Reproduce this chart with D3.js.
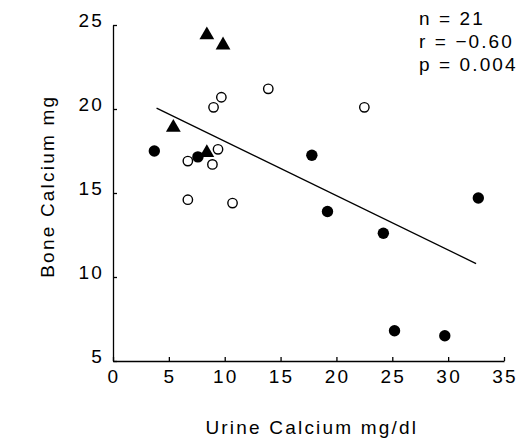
<!DOCTYPE html>
<html>
<head>
<meta charset="utf-8">
<script src="https://cdn.jsdelivr.net/npm/d3@7"></script>
<style>
    body { margin: 0; background: #fff; }
    svg text { font-family: "Liberation Sans", Arial, Helvetica, sans-serif; fill: #000; }
</style>
</head>
<body>
<div id="graph-container"></div>
<script>
// values
const openX = [6.7, 8.9, 9.4, 9.0, 9.7, 13.9, 6.7, 10.7, 22.5];
const openY = [16.9, 16.7, 17.6, 20.1, 20.7, 21.2, 14.6, 14.4, 20.1];

const filledX = [3.7, 7.6, 17.8, 19.2, 24.2, 32.7, 25.2, 29.7];
const filledY = [17.5, 17.15, 17.25, 13.9, 12.6, 14.7, 6.8, 6.5];

const triX = [8.4, 9.85, 5.4, 8.4];
const triY = [24.4, 23.8, 18.9, 17.4];

const fitX = [3.9, 32.5];
const fitY = [20.05, 10.8];

const xTicks = [0, 5, 10, 15, 20, 25, 30, 35];
const yTicks = [5, 10, 15, 20, 25];

const statsText = ['n = 21', 'r = \u22120.60', 'p = 0.004'];

const xTitle = 'Urine Calcium mg/dl';
const yTitle = 'Bone Calcium mg';

const
    WIDTH = 522,
    HEIGHT = 440;

const margin = {
    top: 25,
    bottom: 79,
    left: 113,
    right: 18,
};

const width = WIDTH - margin.left - margin.right,
    height = HEIGHT - margin.top - margin.bottom;

const fontSize = '19px',
    spacing = '2.2px';

const svg = d3.select('#graph-container').append('svg')
    .attr('width', WIDTH)
    .attr('height', HEIGHT);

const container = svg.append('g')
    .attr('transform', `translate(${margin.left} ${margin.top})`);

const xScale = d3.scaleLinear().domain([0, 35]).range([0, width]);
const yScale = d3.scaleLinear().domain([5, 25]).range([height, 0]);

// axes: inward ticks, no outer ticks
const xAxis = d3.axisTop(xScale).tickValues(xTicks).tickSizeInner(4).tickSizeOuter(0).tickFormat('');
const yAxis = d3.axisRight(yScale).tickValues(yTicks).tickSizeInner(4).tickSizeOuter(0).tickFormat('');

container.append('g')
    .attr('transform', `translate(0, ${height})`)
    .call(xAxis)
    .call(g => g.selectAll('path, line').attr('stroke', '#000').attr('stroke-width', 1.3));

container.append('g')
    .call(yAxis)
    .call(g => g.selectAll('path, line').attr('stroke', '#000').attr('stroke-width', 1.3));

// tick labels
container.selectAll('.xlab')
    .data(xTicks)
    .join('text')
    .attr('class', 'xlab')
    .attr('x', d => xScale(d) + 1)
    .attr('y', height + 22)
    .attr('text-anchor', 'middle')
    .style('font-size', fontSize)
    .style('letter-spacing', spacing)
    .text(d => d);

container.selectAll('.ylab')
    .data(yTicks)
    .join('text')
    .attr('class', 'ylab')
    .attr('x', -9)
    .attr('y', d => yScale(d) + 2)
    .attr('text-anchor', 'end')
    .style('font-size', fontSize)
    .style('letter-spacing', spacing)
    .text(d => d);

// titles
svg.append('text')
    .attr('x', margin.left + xScale(17.8))
    .attr('y', 434)
    .attr('text-anchor', 'middle')
    .style('font-size', fontSize)
    .style('letter-spacing', spacing)
    .text(xTitle);

svg.append('text')
    .attr('transform', `translate(54, ${margin.top + yScale(15.4)}) rotate(-90)`)
    .attr('text-anchor', 'middle')
    .style('font-size', fontSize)
    .style('letter-spacing', spacing)
    .text(yTitle);

// stats
svg.selectAll('.stat')
    .data(statsText)
    .join('text')
    .attr('class', 'stat')
    .attr('x', 419)
    .attr('y', (d, i) => 25 + i * 23)
    .style('font-size', fontSize)
    .style('letter-spacing', '2.1px')
    .text(d => d);

// regression line
const line = d3.line()
    .x(d => xScale(d[0]))
    .y(d => yScale(d[1]));

container.append('path')
    .datum(d3.zip(fitX, fitY))
    .attr('d', line)
    .attr('fill', 'none')
    .attr('stroke', '#000')
    .attr('stroke-width', 1.3);

// markers
container.selectAll('.open')
    .data(d3.zip(openX, openY))
    .join('circle')
    .attr('class', 'open')
    .attr('cx', d => xScale(d[0]))
    .attr('cy', d => yScale(d[1]))
    .attr('r', 4.7)
    .attr('fill', '#fff')
    .attr('stroke', '#000')
    .attr('stroke-width', 1.4);

container.selectAll('.filled')
    .data(d3.zip(filledX, filledY))
    .join('circle')
    .attr('class', 'filled')
    .attr('cx', d => xScale(d[0]))
    .attr('cy', d => yScale(d[1]))
    .attr('r', 5.7)
    .attr('fill', '#000');

const tri = d3.symbol().type(d3.symbolTriangle).size(95);
container.selectAll('.tri')
    .data(d3.zip(triX, triY))
    .join('path')
    .attr('class', 'tri')
    .attr('transform', d => `translate(${xScale(d[0])}, ${yScale(d[1])})`)
    .attr('d', tri)
    .attr('fill', '#000');
</script>
</body>
</html>
